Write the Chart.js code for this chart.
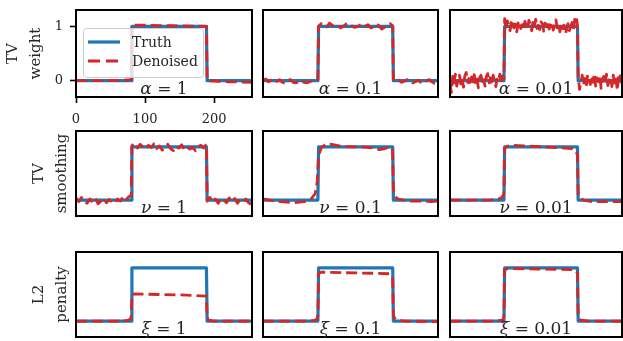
<!DOCTYPE html>
<html>
<head>
<meta charset="utf-8">
<script src="https://cdn.jsdelivr.net/npm/chart.js@4"></script>
<style>
  body { margin: 0; background: #fff; width: 623px; height: 341px; overflow: hidden; position: relative; }
  canvas { position: absolute; }
</style>
</head>
<body>
<script>

// ---- data ----
const rowLabels = [['TV', 'weight'], ['TV', 'smoothing'], ['L2', 'penalty']];
const paramSymbols = ['α', 'ν', 'ξ'];
const paramValues = ['1', '0.1', '0.01'];
const xTicks = [0, 100, 200];
const yTicks = [0, 1];

const truthX = [0, 80, 81, 189, 190, 255];
const truthY = [0, 0, 1, 1, 0, 0];

// sample positions for the noisy reconstructions
const grid2X = [
  0, 2, 4, 6, 8, 10, 12, 14, 16, 18, 20, 22, 24, 26, 28, 30, 32, 34, 36, 38, 40,
  42, 44, 46, 48, 50, 52, 54, 56, 58, 60, 62, 64, 66, 68, 70, 72, 74, 76, 78, 80,
  81, 83, 85, 87, 89, 91, 93, 95, 97, 99, 101, 103, 105, 107, 109, 111, 113, 115, 117, 119,
  121, 123, 125, 127, 129, 131, 133, 135, 137, 139, 141, 143, 145, 147, 149, 151, 153, 155, 157, 159,
  161, 163, 165, 167, 169, 171, 173, 175, 177, 179, 181, 183, 185, 187, 189,
  190, 192, 194, 196, 198, 200, 202, 204, 206, 208, 210, 212, 214, 216, 218, 220, 222,
  224, 226, 228, 230, 232, 234, 236, 238, 240, 242, 244, 246, 248, 250, 252, 254
];
const grid4X = [
  0, 4, 8, 12, 16, 20, 24, 28, 32, 36, 40, 44, 48, 52, 56, 60, 64, 68, 72, 76, 80,
  81, 85, 89, 93, 97, 101, 105, 109, 113, 117, 121, 125, 129, 133, 137, 141, 145, 149, 153,
  157, 161, 165, 169, 173, 177, 181, 185, 189,
  190, 194, 198, 202, 206, 210, 214, 218, 222, 226, 230, 234, 238, 242, 246, 250, 254
];

// TV weight
const alpha1X = [0, 40, 70, 78, 80, 81, 100, 140, 189, 190, 192, 220, 255];
const alpha1Y = [0, 0, 0.01, 0.02, 0.03, 1.02, 1.02, 1.01, 1.0, 0.02, 0.0, -0.02, -0.03];
const alpha01Y = [
  0.0, 0.03, -0.02, 0.01, -0.04, -0.01, 0.02, -0.03, -0.05, 0.0, 0.02, -0.03, -0.04, -0.02, 0.01, -0.03, -0.04, -0.02, 0.0, 0.03, 0.02,
  1.0, 1.05, 1.03, 0.99, 1.06, 1.02, 0.98, 1.01, 0.97, 1.0, 1.04, 1.06, 1.01, 0.98, 0.99, 1.02, 1.05, 1.0, 1.03,
  0.97, 0.99, 1.04, 1.01, 0.95, 0.98, 1.02, 1.05, 1.01,
  0.02, -0.02, 0.01, -0.03, -0.01, 0.02, 0.0, -0.04, -0.02, 0.01, -0.03, -0.05, 0.0, 0.02, -0.02, -0.05, -0.03
];
const alpha001Y = [
  -0.05, -0.22, 0.08, -0.04, 0.12, -0.1, 0.02, 0.1, -0.06, 0.05,
  -0.12, 0.09, 0.15, -0.03, 0.04, -0.09, 0.07, -0.02, 0.11, -0.07,
  0.03, -0.13, 0.06, 0.1, -0.05, 0.02, -0.1, 0.08, 0.13, -0.04,
  0.05, -0.08, 0.1, -0.02, -0.11, 0.07, 0.03, 0.12, -0.06, 0.09, 0.04,
  1.14, 0.95, 1.1, 1.02, 0.92, 1.08, 1.12, 0.97, 1.04, 0.9,
  1.06, 1.1, 0.96, 1.03, 0.93, 1.09, 1.01, 0.95, 1.11, 1.04,
  0.92, 1.07, 0.98, 1.13, 0.96, 1.02, 0.94, 1.08, 1.05, 0.91,
  1.06, 0.99, 1.1, 0.95, 1.03, 1.08, 0.93, 1.01, 1.12, 0.97,
  1.04, 0.9, 1.06, 0.96, 1.02, 0.86, 0.94, 1.05, 0.92, 0.99,
  1.07, 0.95, 1.13, 1.19, 1.02,
  0.08, -0.16, -0.05, 0.1, -0.08, 0.04, -0.12, 0.11, 0.02, -0.07,
  0.09, -0.03, 0.13, -0.1, 0.05, -0.02, 0.1, -0.14, 0.03, 0.08,
  -0.06, 0.12, -0.09, 0.01, 0.07, -0.11, 0.1, -0.04, 0.06, -0.18,
  0.09, 0.14, -0.05
];

// TV smoothing
const nu1Y = [
  0.04, -0.03, 0.05, -0.02, -0.06, 0.02, -0.04, 0.03, -0.07, -0.02, 0.04, -0.05, 0.01, -0.03, -0.06, 0.02, -0.02, 0.05, -0.01, 0.06, 0.09,
  1.02, 1.07, 0.98, 1.05, 1.0, 0.96, 1.03, 0.99, 1.06, 0.97, 1.02, 0.94, 1.0, 1.05, 0.97, 0.93, 1.01, 0.98, 1.04,
  0.95, 1.0, 0.96, 0.99, 0.93, 1.01, 1.03, 0.98, 1.05,
  -0.02, 0.05, -0.04, 0.02, -0.06, 0.03, 0.0, -0.05, 0.04, -0.02, 0.03, -0.06, 0.01, -0.03, 0.02, -0.05, -0.08
];
const nu01X = [0, 10, 25, 45, 60, 70, 76, 79, 81, 85, 92, 100, 115, 130, 145, 160, 170, 178, 184, 188, 189, 190, 193, 197, 205, 215, 230, 245, 255];
const nu01Y = [0.02, 0.0, -0.03, -0.05, -0.03, 0.02, 0.12, 0.35, 0.85, 0.98, 1.06, 1.05, 1.01, 1.0, 1.0, 0.98, 0.95, 0.97, 1.0, 0.97, 0.9, 0.2, 0.06, 0.02, 0.0, -0.02, -0.02, -0.03, -0.02];
const nu001X = [0, 40, 60, 72, 77, 80, 81, 84, 92, 110, 140, 170, 180, 186, 189, 190, 192, 198, 210, 230, 255];
const nu001Y = [0, 0, 0.0, 0.02, 0.05, 0.12, 0.97, 1.01, 1.03, 1.02, 1.0, 0.98, 0.97, 0.93, 0.85, 0.1, 0.05, 0.0, -0.03, -0.03, -0.03];

// L2 penalty
const xi1X = [0, 60, 74, 78, 80, 81, 85, 120, 160, 189, 190, 192, 200, 255];
const xi1Y = [0, 0, 0.01, 0.03, 0.08, 0.5, 0.51, 0.5, 0.49, 0.47, 0.06, 0.02, 0.0, 0.0];
const xi01X = [0, 60, 74, 78, 80, 81, 85, 120, 160, 185, 188, 189, 190, 193, 205, 255];
const xi01Y = [0, 0, 0.01, 0.03, 0.1, 0.9, 0.92, 0.91, 0.9, 0.89, 0.86, 0.8, 0.1, 0.03, 0.0, -0.01];
const xi001X = [0, 70, 78, 80, 81, 85, 130, 180, 187, 189, 190, 193, 205, 255];
const xi001Y = [0, 0, 0.02, 0.08, 0.96, 0.99, 0.98, 0.97, 0.95, 0.9, 0.08, 0.02, 0.0, 0.0];

const denoised = [
  [[alpha1X, alpha1Y], [grid4X, alpha01Y], [grid2X, alpha001Y]],
  [[grid4X, nu1Y], [nu01X, nu01Y], [nu001X, nu001Y]],
  [[xi1X, xi1Y], [xi01X, xi01Y], [xi001X, xi001Y]]
];

// ---- layout ----
const colLeft = [76, 263, 450];
const colRight = [252, 438, 622];
const rowTop = [10, 131, 252];
const rowBottom = [97, 216, 337];

const BLUE = '#1f77b4';
const RED = '#d62728';
const FONT = '"DejaVu Serif", serif';
const TEXT = '#262626';

const pts = (xs, ys) => xs.map((x, i) => ({ x: x, y: ys[i] }));

const panelDeco = {
  id: 'panelDeco',
  afterDatasetsDraw(chart, args, opts) {
    const ctx = chart.ctx;
    const a = chart.chartArea;
    ctx.save();

    if (opts.legend) {
      const bx = a.left + 7, by = a.top + 18;
      ctx.beginPath();
      ctx.roundRect(bx + 0.5, by + 0.5, 120, 49, 3);
      ctx.fillStyle = 'rgba(255,255,255,0.8)';
      ctx.fill();
      ctx.strokeStyle = '#cccccc';
      ctx.lineWidth = 1;
      ctx.stroke();

      ctx.lineWidth = 3.2;
      ctx.strokeStyle = BLUE;
      ctx.beginPath();
      ctx.moveTo(bx + 5, by + 14);
      ctx.lineTo(bx + 37, by + 14);
      ctx.stroke();

      ctx.strokeStyle = RED;
      ctx.lineWidth = 2.8;
      ctx.setLineDash([12, 6]);
      ctx.beginPath();
      ctx.moveTo(bx + 5, by + 33);
      ctx.lineTo(bx + 37, by + 33);
      ctx.stroke();
      ctx.setLineDash([]);

      ctx.fillStyle = TEXT;
      ctx.font = '14px ' + FONT;
      ctx.textBaseline = 'middle';
      ctx.textAlign = 'left';
      ctx.fillText('Truth', bx + 49, by + 15);
      ctx.fillText('Denoised', bx + 49, by + 34);
    }

    ctx.strokeStyle = '#000';
    ctx.lineWidth = 2;
    ctx.strokeRect(a.left, a.top, a.right - a.left, a.bottom - a.top);

    ctx.fillStyle = TEXT;
    ctx.textBaseline = 'alphabetic';
    ctx.textAlign = 'left';
    ctx.font = 'italic 17px ' + FONT;
    const w1 = ctx.measureText(opts.symbol).width;
    ctx.font = '17px ' + FONT;
    const rest = ' = ' + opts.value;
    const w2 = ctx.measureText(rest).width;
    const x0 = (a.left + a.right) / 2 - (w1 + w2) / 2;
    const y0 = a.bottom - 3;
    ctx.font = 'italic 17px ' + FONT;
    ctx.fillText(opts.symbol, x0, y0);
    ctx.font = '17px ' + FONT;
    ctx.fillText(rest, x0 + w1, y0);

    ctx.restore();
  }
};

const tickGrid = {
  display: true,
  drawOnChartArea: false,
  drawTicks: true,
  tickLength: 6,
  tickWidth: 1.6,
  tickColor: '#000'
};

for (let r = 0; r < 3; r++) {
  for (let c = 0; c < 3; c++) {
    const first = c === 0;
    const corner = r === 0 && c === 0;
    const canvasLeft = first ? 0 : colLeft[c] - 4;
    const canvasTop = rowTop[r] - 4;
    const padBottom = corner ? 0 : 8;
    const width = colRight[c] + 4 - canvasLeft;
    const height = rowBottom[r] - canvasTop + (corner ? 34 : padBottom);

    const cv = document.createElement('canvas');
    cv.width = width;
    cv.height = height;
    cv.style.left = canvasLeft + 'px';
    cv.style.top = canvasTop + 'px';
    cv.style.width = width + 'px';
    cv.style.height = height + 'px';
    document.body.appendChild(cv);

    const [dx, dy] = denoised[r][c];

    const xScale = {
      type: 'linear',
      min: 0,
      max: 255,
      display: corner,
      grid: tickGrid,
      border: { display: false },
      ticks: { font: { family: FONT, size: 13 }, color: TEXT, padding: 9, maxRotation: 0 },
      afterBuildTicks: s => { s.ticks = xTicks.map(v => ({ value: v })); }
    };
    if (corner) {
      xScale.afterFit = s => { s.height = 34; s.paddingLeft = 0; s.paddingRight = 0; };
    }

    const yScale = {
      type: 'linear',
      min: -0.3,
      max: 1.3,
      display: first,
      grid: r === 0 ? tickGrid : { display: false },
      border: { display: false },
      ticks: { display: r === 0, font: { family: FONT, size: 13 }, color: TEXT, padding: 7 },
      title: {
        display: true,
        text: rowLabels[r],
        color: TEXT,
        font: { family: FONT, size: 15, lineHeight: 1.5 },
        padding: { top: r === 0 ? 2 : 28, bottom: 0 }
      },
      afterBuildTicks: s => { s.ticks = yTicks.map(v => ({ value: v })); }
    };
    if (first) {
      yScale.afterFit = s => { s.width = colLeft[0]; s.paddingTop = 0; s.paddingBottom = 0; };
    }

    new Chart(cv, {
      type: 'line',
      data: {
        datasets: [
          {
            label: 'Denoised',
            data: pts(dx, dy),
            borderColor: RED,
            borderWidth: 2.8,
            borderDash: [11, 5],
            borderJoinStyle: 'round',
            pointRadius: 0,
            tension: 0,
            order: 0
          },
          {
            label: 'Truth',
            data: pts(truthX, truthY),
            borderColor: BLUE,
            borderWidth: 3.2,
            borderJoinStyle: 'round',
            pointRadius: 0,
            tension: 0,
            order: 1
          }
        ]
      },
      options: {
        responsive: false,
        animation: false,
        events: [],
        layout: { padding: { left: first ? 0 : 4, right: 4, top: 4, bottom: padBottom } },
        plugins: {
          legend: { display: false },
          tooltip: { enabled: false },
          panelDeco: { symbol: paramSymbols[r], value: paramValues[c], legend: corner }
        },
        scales: { x: xScale, y: yScale }
      },
      plugins: [panelDeco]
    });
  }
}
</script>
</body>
</html>
